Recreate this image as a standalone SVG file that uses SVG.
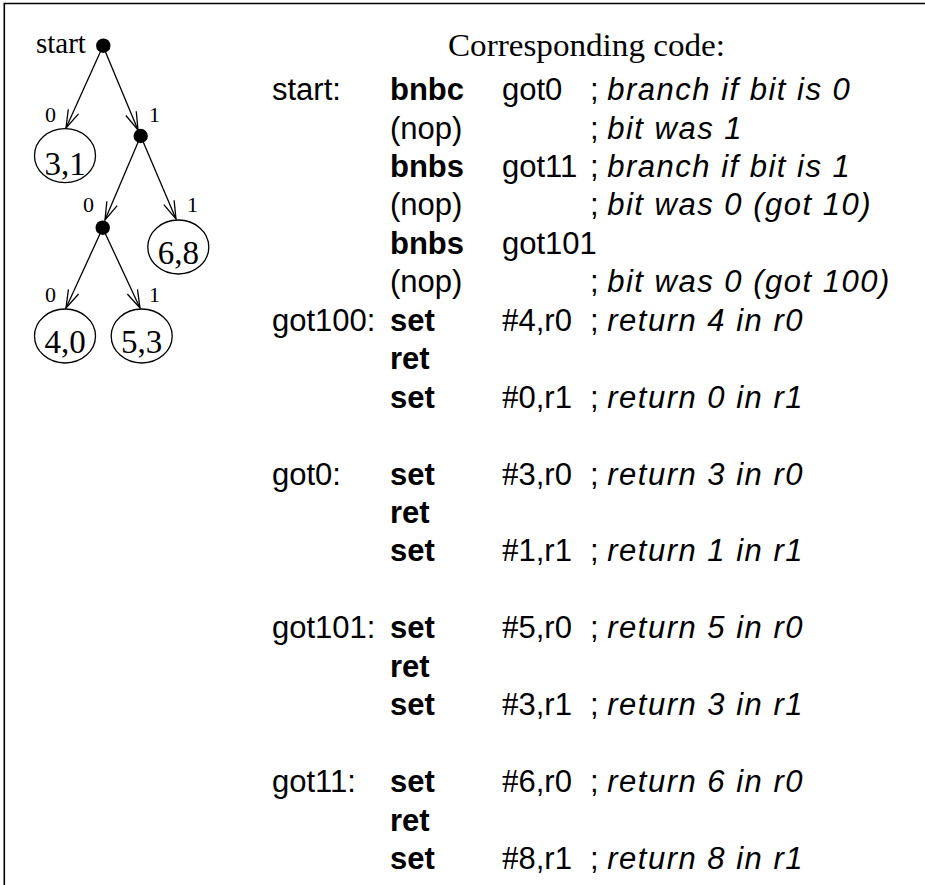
<svg xmlns="http://www.w3.org/2000/svg" width="925" height="885" viewBox="0 0 925 885">
  <style>
    .frame { stroke: #000; stroke-width: 1.6; fill: none; }
    .edge { stroke: #000; stroke-width: 1.3; fill: none; marker-end: url(#vhead); }
    .dot { fill: #000; }
    .leaf { fill: #fff; stroke: #000; stroke-width: 1.3; }
    .leaftxt { font-family: "Liberation Serif", serif; font-size: 33px; text-anchor: middle; fill: #000; }
    .bit { font-family: "Liberation Serif", serif; font-size: 22px; fill: #000; }
    .title { font-family: "Liberation Serif", serif; font-size: 31px; fill: #000; }
    .code { font-family: "Liberation Sans", sans-serif; font-size: 31px; fill: #000; }
    .mn { font-weight: bold; }
    .cm { font-style: italic; letter-spacing: 1.5px; }
    .hash { font-family: "Liberation Serif", serif; font-size: 33px; }
  </style>
  <defs>
    <marker id="vhead" markerUnits="userSpaceOnUse" markerWidth="20" markerHeight="14" refX="0" refY="0" orient="auto" overflow="visible">
      <path d="M-18,-5.6 L0,0 L-18,5.6" fill="none" stroke="#000" stroke-width="1.3"/>
    </marker>
  </defs>

  <rect width="925" height="885" fill="#fff"/>
  <!-- page frame: top and left rules only -->
  <path class="frame" d="M4.3,885 V3.5 H925"/>

  <!-- decision tree connectors -->
  <g id="connectors">
    <line class="edge" x1="103" y1="46" x2="66" y2="128"/>
    <line class="edge" x1="103" y1="46" x2="138" y2="130"/>
    <line class="edge" x1="140.7" y1="136" x2="105" y2="220"/>
    <line class="edge" x1="140.7" y1="136" x2="176" y2="219"/>
    <line class="edge" x1="102.7" y1="228" x2="66" y2="308"/>
    <line class="edge" x1="102.7" y1="228" x2="140" y2="308"/>
    <text class="bit" x="45" y="122">0</text>
    <text class="bit" x="149" y="122">1</text>
    <text class="bit" x="83" y="212">0</text>
    <text class="bit" x="187" y="212">1</text>
    <text class="bit" x="45" y="302">0</text>
    <text class="bit" x="149" y="302">1</text>
  </g>

  <!-- tree nodes -->
  <g id="node-start">
    <text x="36" y="53" style="font-family:'Liberation Serif',serif;font-size:29px">start</text>
    <circle class="dot" cx="103.3" cy="45.7" r="7.2"/>
  </g>
  <g id="node-1"><circle class="dot" cx="140.7" cy="136" r="7.2"/></g>
  <g id="node-10"><circle class="dot" cx="102.7" cy="227.7" r="7.2"/></g>
  <g id="leaf-3-1">
    <ellipse class="leaf" cx="65" cy="155.7" rx="30.5" ry="27"/>
    <text class="leaftxt" x="65" y="175">3,1</text>
  </g>
  <g id="leaf-6-8">
    <ellipse class="leaf" cx="178.3" cy="247" rx="30.5" ry="27"/>
    <text class="leaftxt" x="178.3" y="263.5">6,8</text>
  </g>
  <g id="leaf-4-0">
    <ellipse class="leaf" cx="65" cy="336" rx="30.5" ry="27"/>
    <text class="leaftxt" x="65" y="353">4,0</text>
  </g>
  <g id="leaf-5-3">
    <ellipse class="leaf" cx="141.7" cy="336" rx="30.5" ry="27"/>
    <text class="leaftxt" x="141.7" y="353">5,3</text>
  </g>

  <!-- assembly listing -->
  <g id="code-listing">
    <text class="title" x="448" y="56" textLength="277" lengthAdjust="spacingAndGlyphs">Corresponding code:</text>

    <g class="code">
      <!-- start -->
      <text x="272" y="100">start:</text>
      <text class="mn" x="390" y="100">bnbc</text>
      <text x="502" y="100">got0</text>
      <text x="590" y="100">; <tspan class="cm">branch if bit is 0</tspan></text>

      <text x="390" y="138.5">(nop)</text>
      <text x="590" y="138.5">; <tspan class="cm">bit was 1</tspan></text>

      <text class="mn" x="390" y="177">bnbs</text>
      <text x="502" y="177">got11</text>
      <text x="590" y="177">; <tspan class="cm">branch if bit is 1</tspan></text>

      <text x="390" y="215.4">(nop)</text>
      <text x="590" y="215.4">; <tspan class="cm">bit was 0 (got 10)</tspan></text>

      <text class="mn" x="390" y="253.8">bnbs</text>
      <text x="502" y="253.8">got101</text>

      <text x="390" y="292.3">(nop)</text>
      <text x="590" y="292.3">; <tspan class="cm">bit was 0 (got 100)</tspan></text>

      <!-- got100 -->
      <text x="272" y="330.7">got100:</text>
      <text class="mn" x="390" y="330.7">set</text>
      <text x="502" y="330.7"><tspan class="hash">#</tspan>4,r0</text>
      <text x="590" y="330.7">; <tspan class="cm">return 4 in r0</tspan></text>
      <text class="mn" x="390" y="369.2">ret</text>
      <text class="mn" x="390" y="407.6">set</text>
      <text x="502" y="407.6"><tspan class="hash">#</tspan>0,r1</text>
      <text x="590" y="407.6">; <tspan class="cm">return 0 in r1</tspan></text>

      <!-- got0 -->
      <text x="272" y="484.5">got0:</text>
      <text class="mn" x="390" y="484.5">set</text>
      <text x="502" y="484.5"><tspan class="hash">#</tspan>3,r0</text>
      <text x="590" y="484.5">; <tspan class="cm">return 3 in r0</tspan></text>
      <text class="mn" x="390" y="523">ret</text>
      <text class="mn" x="390" y="561.4">set</text>
      <text x="502" y="561.4"><tspan class="hash">#</tspan>1,r1</text>
      <text x="590" y="561.4">; <tspan class="cm">return 1 in r1</tspan></text>

      <!-- got101 -->
      <text x="272" y="638.3">got101:</text>
      <text class="mn" x="390" y="638.3">set</text>
      <text x="502" y="638.3"><tspan class="hash">#</tspan>5,r0</text>
      <text x="590" y="638.3">; <tspan class="cm">return 5 in r0</tspan></text>
      <text class="mn" x="390" y="676.8">ret</text>
      <text class="mn" x="390" y="715.2">set</text>
      <text x="502" y="715.2"><tspan class="hash">#</tspan>3,r1</text>
      <text x="590" y="715.2">; <tspan class="cm">return 3 in r1</tspan></text>

      <!-- got11 -->
      <text x="272" y="792.1">got11:</text>
      <text class="mn" x="390" y="792.1">set</text>
      <text x="502" y="792.1"><tspan class="hash">#</tspan>6,r0</text>
      <text x="590" y="792.1">; <tspan class="cm">return 6 in r0</tspan></text>
      <text class="mn" x="390" y="830.6">ret</text>
      <text class="mn" x="390" y="869">set</text>
      <text x="502" y="869"><tspan class="hash">#</tspan>8,r1</text>
      <text x="590" y="869">; <tspan class="cm">return 8 in r1</tspan></text>
    </g>
  </g>
</svg>
